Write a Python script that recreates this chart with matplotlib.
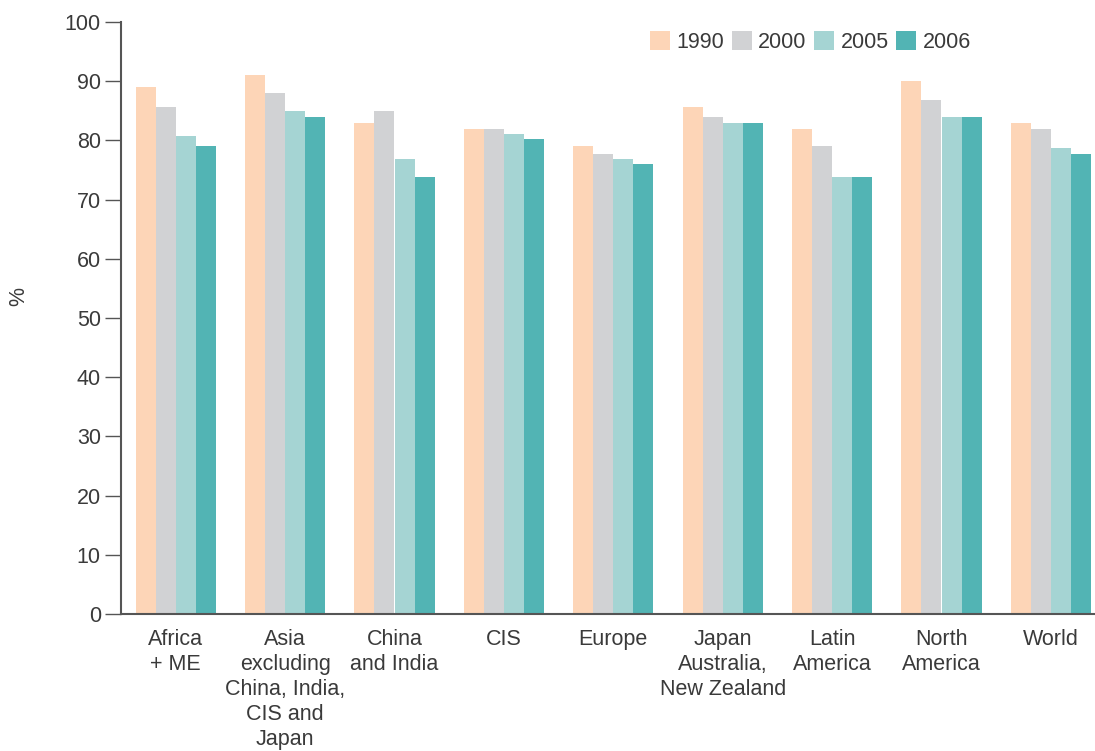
import matplotlib
matplotlib.use("Agg")
import matplotlib.pyplot as plt
import numpy as np

categories = [
    "Africa\n+ ME",
    "Asia\nexcluding\nChina, India,\nCIS and\nJapan",
    "China\nand India",
    "CIS",
    "Europe",
    "Japan\nAustralia,\nNew Zealand",
    "Latin\nAmerica",
    "North\nAmerica",
    "World",
]
years = ["1990", "2000", "2005", "2006"]
v1990 = [89, 91, 83, 82, 79, 85.6, 82, 90, 83]
v2000 = [85.6, 88, 85, 82, 77.7, 84, 79, 86.8, 82]
v2005 = [80.8, 85, 76.8, 81, 76.8, 83, 73.8, 84, 78.8]
v2006 = [79, 84, 73.8, 80.2, 76, 83, 73.8, 84, 77.7]
series = [v1990, v2000, v2005, v2006]
colors = ["#FDD5B7", "#D1D2D4", "#A5D4D3", "#52B4B4"]

plt.rcParams["font.family"] = ["Liberation Sans", "DejaVu Sans"]
text_color = "#3a3a3a"
fs = 15.5

fig = plt.figure(figsize=(10.95, 7.51), dpi=100)
ax = fig.add_axes([121 / 1095, 137 / 751, 974 / 1095, 592 / 751])

x = np.arange(len(categories))
bw = 0.183
offsets = (np.arange(4) - 1.5) * bw
for vals, off, col, yr in zip(series, offsets, colors, years):
    ax.bar(x + off, vals, width=bw, color=col, label=yr, linewidth=0)

ax.set_ylim(0, 100)
ax.set_xlim(-0.5, 974 / 109.4 - 0.5)
ax.set_yticks(range(0, 101, 10))
ax.set_xticks(x)
ax.set_xticklabels(categories, fontsize=fs, color=text_color, linespacing=1.24)
ax.tick_params(axis="x", length=0, pad=11)
ax.tick_params(axis="y", length=11.5, width=1.0, color="#555555",
               labelsize=fs, labelcolor=text_color, pad=3)

for s in ["top", "right"]:
    ax.spines[s].set_visible(False)
for s in ["left", "bottom"]:
    ax.spines[s].set_color("#555555")
    ax.spines[s].set_linewidth(1.5)

fig.text(19 / 1095, 1 - 297 / 751, "%", rotation=90, ha="center", va="center",
         fontsize=fs, color=text_color)

leg = ax.legend(ncol=4, loc="center left",
                bbox_to_anchor=(650 / 1095, 1 - 42 / 751),
                bbox_transform=fig.transFigure, frameon=False,
                fontsize=fs, handlelength=0.93, handleheight=0.98,
                handletextpad=0.3, columnspacing=0.35, borderaxespad=0,
                borderpad=0)
for t in leg.get_texts():
    t.set_color(text_color)

fig.savefig("out.png", dpi=100)
